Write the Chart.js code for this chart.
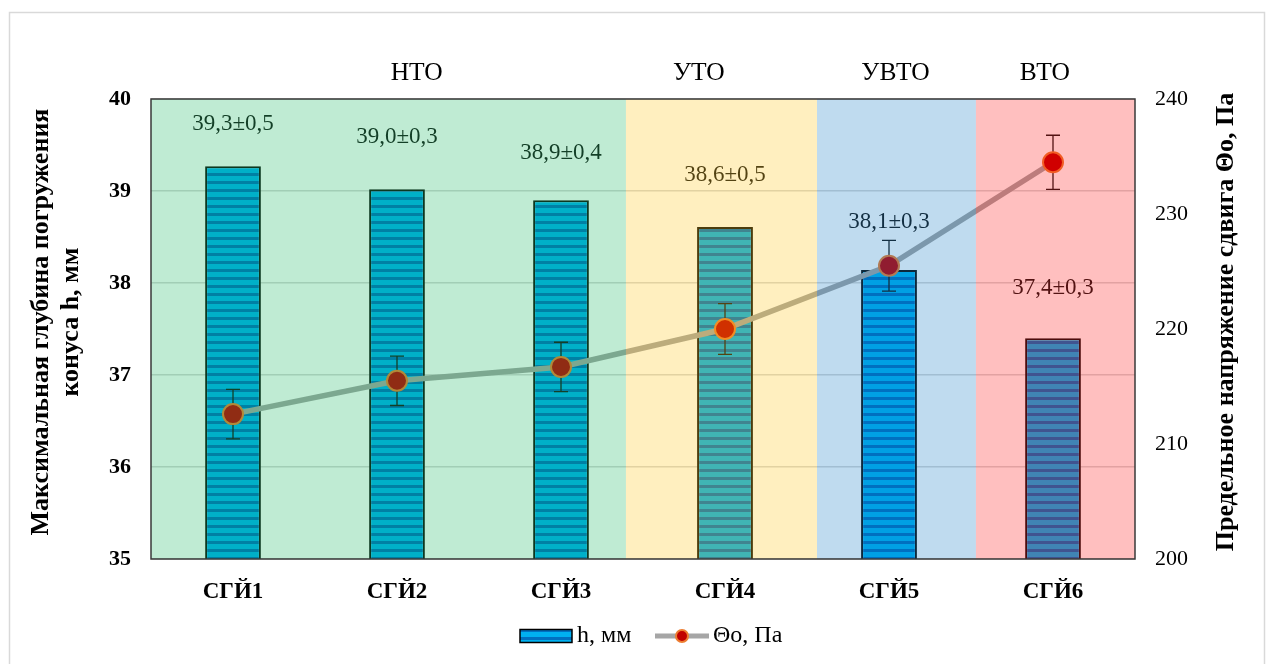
<!DOCTYPE html>
<html><head><meta charset="utf-8">
<script src="https://cdn.jsdelivr.net/npm/chart.js@4"></script>
<style>html,body{margin:0;padding:0;background:#fff}#wrap{width:1273px;height:664px}</style>
</head><body><div id="wrap"><canvas id="c" width="1273" height="664"></canvas></div>
<script>
// ---- data ----
const categories = ['СГЙ1', 'СГЙ2', 'СГЙ3', 'СГЙ4', 'СГЙ5', 'СГЙ6'];
const hValues = [39.27, 39.02, 38.9, 38.61, 38.14, 37.4];
const hErrors = [0.5, 0.3, 0.4, 0.5, 0.3, 0.3];
const thetaValues = [212.6, 215.5, 216.7, 220.0, 225.5, 234.5];
const thetaErrors = [2.15, 2.15, 2.15, 2.2, 2.2, 2.35];
const zoneNames = ['НТО', 'УТО', 'УВТО', 'ВТО'];
const zoneStarts = [-0.5, 2.396, 3.561, 4.53];
const zoneEnds = [2.396, 3.561, 4.53, 5.5];
const zoneLabelAt = [1.12, 2.84, 4.04, 4.95];
const zoneColors = ['rgba(0,176,80,0.25)', 'rgba(255,192,0,0.25)', 'rgba(0,112,192,0.25)', 'rgba(255,0,0,0.25)'];
const seriesNames = ['h, мм', 'Θо, Па'];
const leftTitle = ['Максимальная глубина погружения', 'конуса h, мм'];
const rightTitle = 'Предельное напряжение сдвига Θо, Па';

// layout-only: vertical lift (px) of each value label above its bar
const labelLift = [42, 52, 47, 52, 48, 50];

const SERIF = '"Liberation Serif", "Times New Roman", serif';

function stripePattern() {
  const pc = document.createElement('canvas');
  pc.width = 8; pc.height = 8;
  const g = pc.getContext('2d');
  g.fillStyle = '#00b0f0'; g.fillRect(0, 0, 8, 8);
  g.fillStyle = '#0070c0'; g.fillRect(0, 5, 8, 3);
  return g.createPattern(pc, 'repeat');
}
const pattern = stripePattern();

function fmt(v) { return v.toFixed(1).replace('.', ','); }

const decorPlugin = {
  id: 'decor',
  beforeDraw(chart) {
    const ctx = chart.ctx;
    ctx.save();
    ctx.strokeStyle = '#d9d9d9';
    ctx.lineWidth = 1.5;
    ctx.strokeRect(9.5, 12.5, 1255, 700);
    ctx.restore();
  },
  afterDatasetDraw(chart, args) {
    if (args.index !== 0) return;
    const ctx = chart.ctx;
    const x = chart.scales.x, y1 = chart.scales.y1;
    ctx.save();
    ctx.strokeStyle = '#1a1a1a';
    ctx.lineWidth = 1.3;
    thetaValues.forEach((v, i) => {
      const px = x.getPixelForValue(i);
      const top = y1.getPixelForValue(v + thetaErrors[i]);
      const bot = y1.getPixelForValue(v - thetaErrors[i]);
      ctx.beginPath();
      ctx.moveTo(px, top); ctx.lineTo(px, bot);
      ctx.moveTo(px - 7, top); ctx.lineTo(px + 7, top);
      ctx.moveTo(px - 7, bot); ctx.lineTo(px + 7, bot);
      ctx.stroke();
    });
    ctx.restore();
  },
  afterDatasetsDraw(chart) {
    const ctx = chart.ctx;
    const x = chart.scales.x, y = chart.scales.y;
    const a = chart.chartArea;
    ctx.save();
    // value labels
    ctx.font = '23px ' + SERIF;
    ctx.fillStyle = '#1a1a1a';
    ctx.textAlign = 'center';
    ctx.textBaseline = 'middle';
    hValues.forEach((v, i) => {
      ctx.fillText(fmt(v) + '±' + fmt(hErrors[i]), x.getPixelForValue(i), y.getPixelForValue(v) - labelLift[i]);
    });
    // zone overlays
    zoneNames.forEach((n, i) => {
      const x0 = x.getPixelForValue(zoneStarts[i]);
      const x1 = x.getPixelForValue(zoneEnds[i]);
      ctx.fillStyle = zoneColors[i];
      ctx.fillRect(x0, a.top, x1 - x0, a.bottom - a.top);
    });
    // plot border
    ctx.strokeStyle = '#3a3a3a';
    ctx.lineWidth = 1.5;
    ctx.strokeRect(a.left, a.top, a.right - a.left, a.bottom - a.top);
    // zone names
    ctx.fillStyle = '#000';
    ctx.font = '25.5px ' + SERIF;
    zoneNames.forEach((n, i) => {
      ctx.fillText(n, x.getPixelForValue(zoneLabelAt[i]), 73);
    });
    // axis titles
    ctx.font = 'bold 26px ' + SERIF;
    ctx.save();
    ctx.translate(41, 322); ctx.rotate(-Math.PI / 2);
    ctx.fillText(leftTitle[0], 0, 0);
    ctx.fillText(leftTitle[1], 0, 30);
    ctx.restore();
    ctx.save();
    ctx.translate(1226, 322); ctx.rotate(-Math.PI / 2);
    ctx.fillText(rightTitle, 0, 0);
    ctx.restore();
    // legend
    const ly = 636;
    const ds0 = chart.data.datasets[0], ds1 = chart.data.datasets[1];
    ctx.fillStyle = pattern;
    ctx.fillRect(520, ly - 6.5, 52, 13);
    ctx.strokeStyle = '#000'; ctx.lineWidth = 1.5;
    ctx.strokeRect(520, ly - 6.5, 52, 13);
    ctx.fillStyle = '#000';
    ctx.font = '24px ' + SERIF;
    ctx.textAlign = 'left';
    ctx.fillText(ds0.label, 577, ly);
    ctx.strokeStyle = '#a6a6a6'; ctx.lineWidth = 5;
    ctx.beginPath(); ctx.moveTo(655, ly); ctx.lineTo(709, ly); ctx.stroke();
    ctx.beginPath(); ctx.arc(682, ly, 6, 0, Math.PI * 2);
    ctx.fillStyle = '#c00000'; ctx.fill();
    ctx.strokeStyle = '#ed7d31'; ctx.lineWidth = 2; ctx.stroke();
    ctx.fillStyle = '#000';
    ctx.fillText(ds1.label, 713, ly);
    ctx.restore();
  }
};

new Chart(document.getElementById('c'), {
  data: {
    labels: categories,
    datasets: [
      {
        type: 'bar', label: seriesNames[0], data: hValues, yAxisID: 'y', order: 2,
        backgroundColor: pattern, borderColor: '#111', borderWidth: 2,
        barPercentage: 0.34, categoryPercentage: 1.0
      },
      {
        type: 'line', label: seriesNames[1], data: thetaValues, yAxisID: 'y1', order: 1,
        borderColor: '#a6a6a6', borderWidth: 5.5, tension: 0,
        pointRadius: 10, pointBackgroundColor: '#c00000', pointBorderColor: '#ed7d31', pointBorderWidth: 2
      }
    ]
  },
  options: {
    responsive: false, animation: false, devicePixelRatio: 1,
    layout: { padding: { top: 99, left: 0, right: 0, bottom: 0 } },
    plugins: { legend: { display: false }, tooltip: { enabled: false }, title: { display: false } },
    scales: {
      x: {
        offset: true,
        grid: { display: false },
        border: { display: false },
        ticks: { color: '#000', font: { family: SERIF, size: 23, weight: 'bold' }, padding: 11 },
        afterFit(s) { s.height = 664 - 559; }
      },
      y: {
        position: 'left', min: 35, max: 40,
        ticks: { stepSize: 1, color: '#000', font: { family: SERIF, size: 22, weight: 'bold' }, padding: 20 },
        grid: { color: '#d9d9d9', lineWidth: 1.5, drawTicks: false },
        border: { display: false },
        afterFit(s) { s.width = 151; }
      },
      y1: {
        position: 'right', min: 200, max: 240,
        ticks: { stepSize: 10, color: '#000', font: { family: SERIF, size: 22 }, padding: 20 },
        grid: { drawOnChartArea: false, drawTicks: false },
        border: { display: false },
        afterFit(s) { s.width = 1273 - 1135; }
      }
    }
  },
  plugins: [decorPlugin]
});
</script>
</body></html>
